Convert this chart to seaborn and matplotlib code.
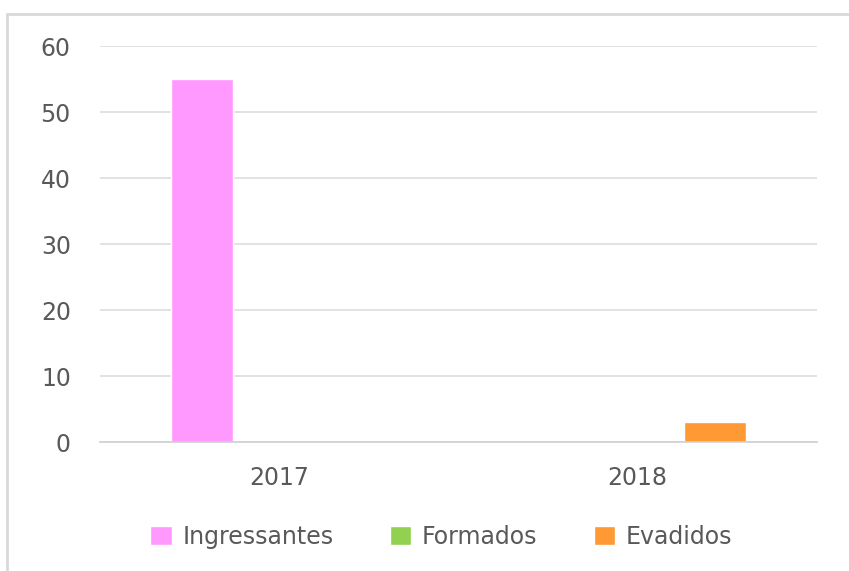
import pandas as pd
import matplotlib
matplotlib.use("Agg")
import matplotlib.pyplot as plt
from matplotlib.lines import Line2D
import seaborn as sns

anos = ["2017", "2018"]
series = ["Ingressantes", "Formados", "Evadidos"]
ingressantes = [55, 0]
formados = [0, 0]
evadidos = [0, 3]
cores = ["#FF99FF", "#92D050", "#FF9933"]

rows = []
for nome, vals in zip(series, [ingressantes, formados, evadidos]):
	for ano, v in zip(anos, vals):
		rows.append({"ano": ano, "serie": nome, "valor": v})
df = pd.DataFrame(rows)

sns.set_style("white")
plt.rcParams['font.family'] = ['DejaVu Sans']

fig = plt.figure(figsize=(8.49, 5.71), dpi=100)
ax = fig.add_axes([0.1178, 0.2259, 0.8445, 0.6935])

sns.barplot(data=df, x="ano", y="valor", hue="serie", hue_order=series,
	palette=cores, width=0.65, gap=0.2, ax=ax, legend=True, saturation=1)

ax.set_xlim(-0.5, 1.5)
ax.set_ylim(0, 60)
ax.set_yticks(range(0, 61, 10))
ax.yaxis.grid(True, color="#DDDDDD", linewidth=1.2)
ax.set_axisbelow(True)
for s in ["top", "right", "left"]:
	ax.spines[s].set_visible(False)
ax.spines["bottom"].set_color("#D0D0D0")
ax.spines["bottom"].set_linewidth(1.2)
ax.tick_params(axis="both", length=0, labelsize=17, colors="#595959")
ax.tick_params(axis="x", pad=17)
ax.tick_params(axis="y", pad=21)
ax.set_xlabel("")
ax.set_ylabel("")

handles, labels = ax.get_legend_handles_labels()
ax.legend(handles, labels, loc="center", bbox_to_anchor=(0.52, 0.06),
	bbox_transform=fig.transFigure, ncol=3, frameon=False, fontsize=17,
	handlelength=0.9, handleheight=0.9, handletextpad=0.45, columnspacing=2.4,
	labelcolor="#595959")

# moldura do grafico (so esquerda e topo aparecem)
fig.add_artist(Line2D([0.008, 0.008], [0.0, 0.976], transform=fig.transFigure, color="#D9D9D9", linewidth=2))
fig.add_artist(Line2D([0.008, 1.0], [0.976, 0.976], transform=fig.transFigure, color="#D9D9D9", linewidth=2))

fig.savefig("out.png", dpi=100)
